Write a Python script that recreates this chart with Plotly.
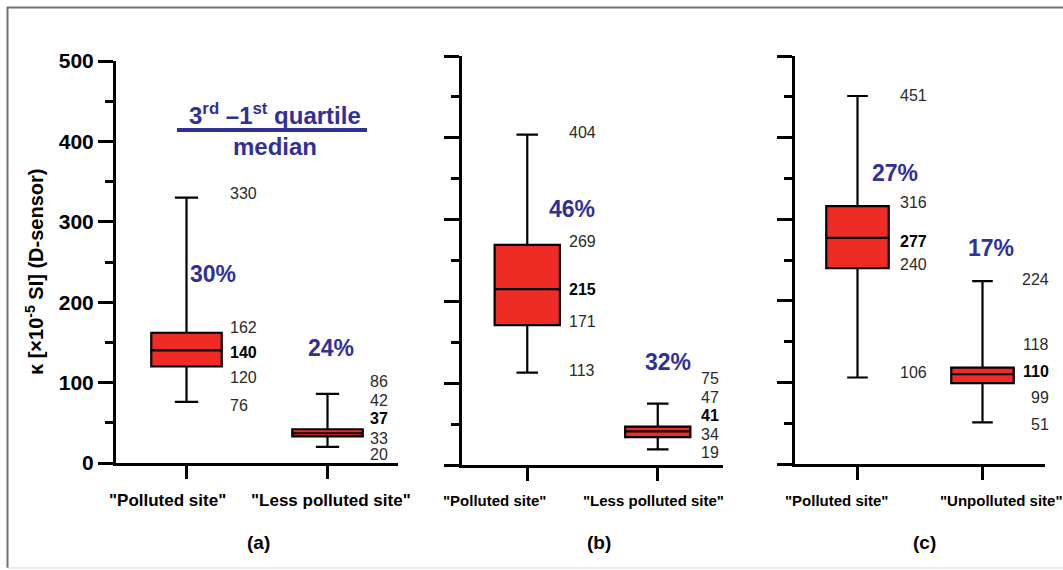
import plotly.graph_objects as go

# ---- data -------------------------------------------------------------
panel_tags = ["(a)", "(b)", "(c)"]
categories = [
    ['"Polluted site"', '"Less polluted site"'],
    ['"Polluted site"', '"Less polluted site"'],
    ['"Polluted site"', '"Unpolluted site"'],
]
lower_whisker = [[76, 20], [113, 19], [106, 51]]
first_quartile = [[120, 33], [171, 34], [240, 99]]
medians = [[140, 37], [215, 41], [277, 110]]
third_quartile = [[162, 42], [269, 47], [316, 118]]
upper_whisker = [[330, 86], [404, 75], [451, 224]]
spread_pct = [[30, 24], [46, 32], [27, 17]]

# ---- layout helpers -----------------------------------------------------
W, H = 1063, 570


def px(x):
    return x / W


def py(y):
    return 1 - y / H


# plot areas in pixels: (left, right, top, bottom)
areas = [(116, 398, 61, 463), (462, 723, 56, 465), (795, 1045, 56, 464)]

# value-label placement per box: x (pixels), anchor, y positions in data
# units for [upper, q3, median, q1, lower]
label_place = [
    [(228, "left", [335, 169, 138, 106, 72]),
     (368, "left", [101, 78, 55, 31, 11])],
    [(567, "left", [407, 273, 215, 175, 115]),
     (699, "left", [106, 83, 60, 37, 15])],
    [(898, "left", [452, 320, 273, 244, 112]),
     (1051, "right", [226, 146, 113, 82, 48])],
]
# percentage labels: x left edge (pixels), y (data units)
pct_place = [
    [(188, 235), (306, 143)],
    [(547, 313), (643, 126)],
    [(870, 357), (966, 265)],
]
cat_label_x = [[167, 331], [494, 653], [836, 1001]]
cat_font = [17, 15, 15]
tag_x = [258, 599, 924]

RED = "#EE2B24"
BLUE = "#30309A"
FONT = "Liberation Sans, Arial, sans-serif"

fig = go.Figure()
annotations = []

for i in range(3):
    xa = "x" if i == 0 else f"x{i + 1}"
    ya = "y" if i == 0 else f"y{i + 1}"
    fig.add_trace(go.Box(
        x=[0, 1],
        q1=first_quartile[i], median=medians[i], q3=third_quartile[i],
        lowerfence=lower_whisker[i], upperfence=upper_whisker[i],
        width=0.5, whiskerwidth=0.33,
        fillcolor=RED, line=dict(color="black", width=2.2),
        boxpoints=False, hoverinfo="skip", showlegend=False,
        xaxis=xa, yaxis=ya,
    ))

    l, r, t, b = areas[i]
    common_x = dict(
        domain=[px(l), px(r)], range=[-0.5, 1.5], anchor=ya,
        showline=True, linewidth=3, linecolor="black",
        tickvals=[0, 1], ticks="outside", ticklen=13, tickwidth=3,
        tickcolor="black", showticklabels=False, showgrid=False,
        zeroline=False, fixedrange=True, automargin=False,
    )
    common_y = dict(
        domain=[py(b), py(t)], range=[0, 500], anchor=xa,
        showline=True, linewidth=3, linecolor="black",
        dtick=100, tick0=0, ticks="outside", ticklen=15, tickwidth=3,
        tickcolor="black", showgrid=False, zeroline=False,
        minor=dict(dtick=50, ticks="outside", ticklen=8, tickwidth=3,
                   tickcolor="black", showgrid=False),
        showticklabels=(i == 0),
        tickfont=dict(family=FONT, size=21, color="black", weight="bold"),
        fixedrange=True, automargin=False,
    )
    key = "" if i == 0 else str(i + 1)
    fig.update_layout(**{f"xaxis{key}": common_x, f"yaxis{key}": common_y})

    for j in range(2):
        lx, anchor, ys = label_place[i][j]
        vals = [upper_whisker[i][j], third_quartile[i][j], medians[i][j],
                first_quartile[i][j], lower_whisker[i][j]]
        for k, (v, yv) in enumerate(zip(vals, ys)):
            annotations.append(dict(
                xref="paper", yref=ya, x=px(lx), y=yv, text=str(v),
                xanchor=anchor, yanchor="middle", showarrow=False,
                font=dict(family=FONT, size=16,
                          color="black" if k == 2 else "#2a2a2a",
                          weight="bold" if k == 2 else "normal"),
            ))
        pxv, pyv = pct_place[i][j]
        annotations.append(dict(
            xref="paper", yref=ya, x=px(pxv), y=pyv,
            text=f"{spread_pct[i][j]}%",
            xanchor="left", yanchor="middle", showarrow=False,
            font=dict(family=FONT, size=23, color=BLUE, weight="bold"),
        ))
        annotations.append(dict(
            xref="paper", yref="paper", x=px(cat_label_x[i][j]), y=py(500),
            text=categories[i][j], xanchor="center", yanchor="middle",
            showarrow=False,
            font=dict(family=FONT, size=cat_font[i], color="black",
                      weight="bold"),
        ))
    annotations.append(dict(
        xref="paper", yref="paper", x=px(tag_x[i]), y=py(542),
        text=panel_tags[i], xanchor="center", yanchor="middle",
        showarrow=False,
        font=dict(family=FONT, size=19, color="black", weight="bold"),
    ))

# y-axis title
annotations.append(dict(
    xref="paper", yref="paper", x=px(35), y=py(272),
    text="κ [×10<sup>-5</sup> SI] (D-sensor)", textangle=-90,
    xanchor="center", yanchor="middle", showarrow=False,
    font=dict(family=FONT, size=20, color="black", weight="bold"),
))

# spread definition: (3rd - 1st quartile) / median
annotations.append(dict(
    xref="paper", yref="paper", x=px(275), y=py(114),
    text="3<sup>rd</sup> –1<sup>st</sup> quartile",
    xanchor="center", yanchor="middle", showarrow=False,
    font=dict(family=FONT, size=24, color=BLUE, weight="bold"),
))
annotations.append(dict(
    xref="paper", yref="paper", x=px(275), y=py(146),
    text="median", xanchor="center", yanchor="middle", showarrow=False,
    font=dict(family=FONT, size=24, color=BLUE, weight="bold"),
))

shapes = [
    dict(type="line", xref="paper", yref="paper",
         x0=px(177), x1=px(367), y0=py(130), y1=py(130),
         line=dict(color=BLUE, width=4)),
    # frame around the figure
    dict(type="line", xref="paper", yref="paper",
         x0=px(7), x1=1.0, y0=py(7.5), y1=py(7.5),
         line=dict(color="#707070", width=2)),
    dict(type="line", xref="paper", yref="paper",
         x0=px(7.5), x1=px(7.5), y0=py(7), y1=py(568),
         line=dict(color="#707070", width=2)),
    dict(type="line", xref="paper", yref="paper",
         x0=px(7), x1=1.0, y0=py(568), y1=py(568),
         line=dict(color="#d8d8d8", width=1)),
]

fig.update_layout(
    width=W, height=H,
    margin=dict(l=0, r=0, t=0, b=0),
    paper_bgcolor="white", plot_bgcolor="white",
    annotations=annotations, shapes=shapes,
    showlegend=False,
)

fig.write_html("out.html", config={"displayModeBar": False})
